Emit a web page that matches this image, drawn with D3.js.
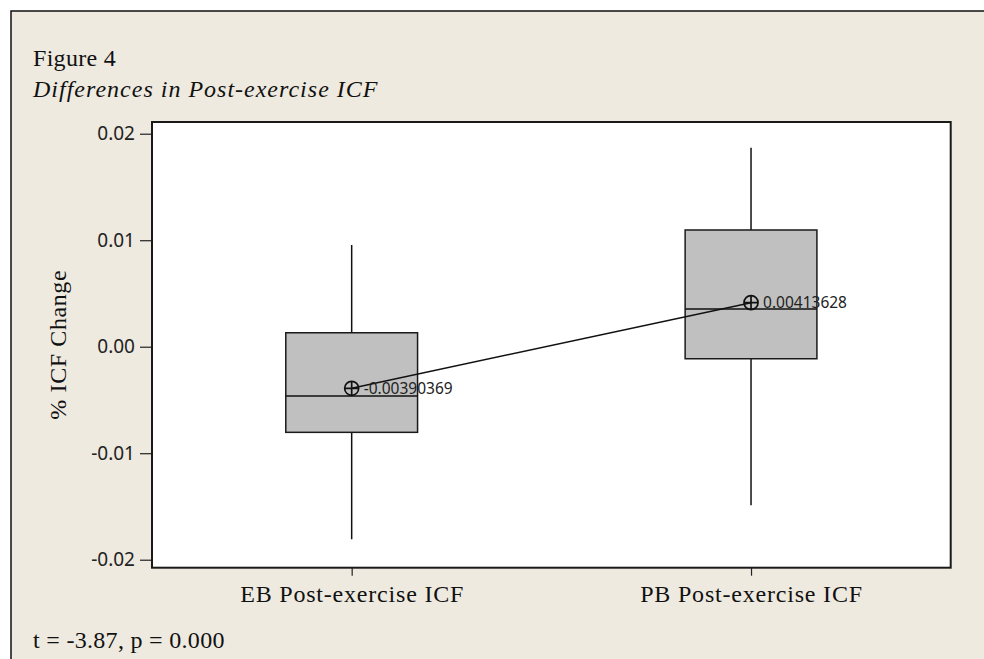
<!DOCTYPE html>
<html>
<head>
<meta charset="utf-8">
<script src="https://cdn.jsdelivr.net/npm/d3@7"></script>
<style>
  body { margin: 0; background: #ffffff; }
  .serif { font-family: "Liberation Serif", "Times New Roman", serif; fill: #111; }
  .sans { font-family: "Noto Sans", "Open Sans", sans-serif; fill: #222; }
</style>
</head>
<body>
<div id="container"></div>
<script>
// box plot summaries
const categories = ["EB Post-exercise ICF", "PB Post-exercise ICF"];
const whisker_lo = [-0.01808, -0.01489];
const q1_vals    = [-0.00804, -0.00113];
const medians    = [-0.00463, 0.00354];
const q3_vals    = [0.00131, 0.01096];
const whisker_hi = [0.00955, 0.01869];
const means      = [-0.00390369, 0.00413628];
const mean_labels = ["-0.00390369", "0.00413628"];
const y_ticks = [-0.02, -0.01, 0.00, 0.01, 0.02];

const width = 984, height = 659;
const plot = {left: 152, right: 950.7, top: 122, bottom: 567.7};

var fmt = d3.formatLocale({decimal: ".", thousands: ",", grouping: [3],
                           currency: ["", ""], minus: "-"}).format(".2f");

var svg = d3.select("#container").append("svg")
    .attr("width", width)
    .attr("height", height);

// outer beige panel, frame only on top and left
svg.append("rect")
    .attr("x", 11).attr("y", 11)
    .attr("width", width).attr("height", height)
    .style("fill", "#eeeae0");
svg.append("path")
    .attr("d", "M11," + height + "V11H" + width)
    .style("fill", "none")
    .style("stroke", "#111")
    .style("stroke-width", 1.5);

svg.append("text").classed("serif", true)
    .attr("x", 33).attr("y", 66)
    .style("font-size", "24px")
    .style("letter-spacing", "0.3px")
    .text("Figure 4");
svg.append("text").classed("serif", true)
    .attr("x", 33).attr("y", 97)
    .style("font-size", "24px")
    .style("font-style", "italic")
    .style("letter-spacing", "1px")
    .text("Differences in Post-exercise ICF");

var x = d3.scalePoint()
    .domain(categories)
    .range([plot.left, plot.right])
    .padding(0.5);

var y = d3.scaleLinear()
    .domain([-0.02075, 0.0211])
    .range([plot.bottom, plot.top]);

svg.append("rect")
    .attr("x", plot.left).attr("y", plot.top)
    .attr("width", plot.right - plot.left)
    .attr("height", plot.bottom - plot.top)
    .style("fill", "#ffffff");

// axes
var yAxis = svg.append("g")
    .attr("transform", "translate(" + plot.left + ",0)")
    .call(d3.axisLeft(y).tickValues(y_ticks).tickSize(12).tickPadding(5)
          .tickFormat(fmt));
yAxis.select(".domain").remove();
yAxis.selectAll("line").style("stroke", "#222").style("stroke-width", 1.2);
yAxis.selectAll("text").attr("class", "sans")
    .style("font-size", "19px").style("fill", "#222");

var xAxis = svg.append("g")
    .attr("transform", "translate(0," + plot.bottom + ")")
    .call(d3.axisBottom(x).tickSize(8).tickPadding(0));
xAxis.select(".domain").remove();
xAxis.selectAll("line").style("stroke", "#222").style("stroke-width", 1.2);
xAxis.selectAll("text").attr("class", "serif")
    .attr("y", 17)
    .style("font-size", "24px")
    .style("letter-spacing", "0.8px")
    .style("fill", "#111");

svg.append("text").classed("serif", true)
    .attr("transform", "translate(66," + (y(0) - 2) + ") rotate(-90)")
    .attr("text-anchor", "middle")
    .style("font-size", "24px")
    .style("letter-spacing", "0.6px")
    .text("% ICF Change");

// boxes
var data = categories.map(function(c, i){
    return {cat: c, lo: whisker_lo[i], q1: q1_vals[i], med: medians[i],
            q3: q3_vals[i], hi: whisker_hi[i], mean: means[i], label: mean_labels[i]};
});

var box_w = x.step() * 0.33;

var gs = svg.selectAll("g.box")
    .data(data)
    .enter()
    .append("g")
    .classed("box", true);

gs.append("line")
    .attr("x1", function(d){ return x(d.cat); })
    .attr("x2", function(d){ return x(d.cat); })
    .attr("y1", function(d){ return y(d.hi); })
    .attr("y2", function(d){ return y(d.q3); })
    .style("stroke", "#111").style("stroke-width", 1.5);
gs.append("line")
    .attr("x1", function(d){ return x(d.cat); })
    .attr("x2", function(d){ return x(d.cat); })
    .attr("y1", function(d){ return y(d.q1); })
    .attr("y2", function(d){ return y(d.lo); })
    .style("stroke", "#111").style("stroke-width", 1.5);

gs.append("rect")
    .attr("x", function(d){ return x(d.cat) - box_w / 2; })
    .attr("y", function(d){ return y(d.q3); })
    .attr("width", box_w)
    .attr("height", function(d){ return y(d.q1) - y(d.q3); })
    .style("fill", "#c0c0c0")
    .style("stroke", "#1a1a1a")
    .style("stroke-width", 1.5);

gs.append("line")
    .attr("x1", function(d){ return x(d.cat) - box_w / 2; })
    .attr("x2", function(d){ return x(d.cat) + box_w / 2; })
    .attr("y1", function(d){ return y(d.med); })
    .attr("y2", function(d){ return y(d.med); })
    .style("stroke", "#111").style("stroke-width", 1.5);

// mean connect line
svg.append("path")
    .datum(data)
    .attr("d", d3.line()
          .x(function(d){ return x(d.cat); })
          .y(function(d){ return y(d.mean); }))
    .style("fill", "none")
    .style("stroke", "#111")
    .style("stroke-width", 1.5);

// mean symbols: circle with cross
var r = 7;
var ms = svg.selectAll("g.mean")
    .data(data)
    .enter()
    .append("g")
    .classed("mean", true)
    .attr("transform", function(d){ return "translate(" + x(d.cat) + "," + y(d.mean) + ")"; });
ms.append("circle")
    .attr("r", r)
    .style("fill", "none")
    .style("stroke", "#111")
    .style("stroke-width", 1.7);
ms.append("path")
    .attr("d", "M" + (-r) + ",0H" + r + "M0," + (-r) + "V" + r)
    .style("stroke", "#111")
    .style("stroke-width", 1.7);
ms.append("text").classed("sans", true)
    .attr("x", 12)
    .attr("dy", "0.35em")
    .style("font-size", "15.5px")
    .text(function(d){ return d.label; });

// plot frame
svg.append("rect")
    .attr("x", plot.left).attr("y", plot.top)
    .attr("width", plot.right - plot.left)
    .attr("height", plot.bottom - plot.top)
    .style("fill", "none")
    .style("stroke", "#1a1a1a")
    .style("stroke-width", 2);

svg.append("text").classed("serif", true)
    .attr("x", 33).attr("y", 648)
    .style("font-size", "24px")
    .style("letter-spacing", "0.3px")
    .text("t = -3.87, p = 0.000");
</script>
</body>
</html>
